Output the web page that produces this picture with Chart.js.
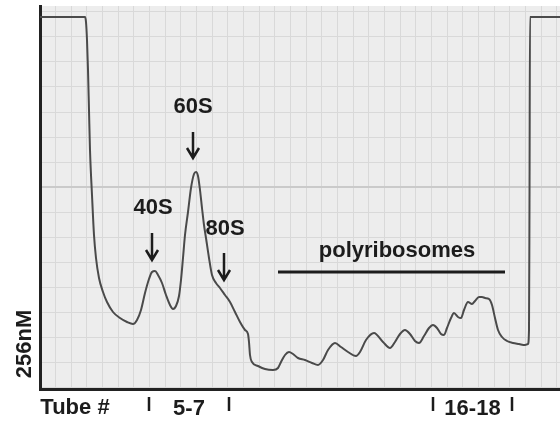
<!DOCTYPE html>
<html>
<head>
<meta charset="utf-8">
<script src="https://cdn.jsdelivr.net/npm/chart.js@4.4.1/dist/chart.umd.min.js"></script>
<style>
html,body{margin:0;padding:0;background:#fff;}
#wrap{width:560px;height:427px;position:relative;}
</style>
</head>
<body>
<div id="wrap"><canvas id="c" width="560" height="427"></canvas></div>
<script>
// Gradient position along the tube (arbitrary units, left = top of gradient)
const position = [0,45,46,47,48,49,50,52,54,56,59,63,67,73,80,87,93,97,101,105,109,112,115,118,122,126,130,133,136,139,141,143,145,148,151,154,156,158,160,162,164,166,169,172,176,180,185,190,195,200,205,208,209,210,212,218,225,233,238,241,245,249,253,258,265,272,278,283,288,295,301,308,316,320,326,334,343,350,355,360,365,370,375,379,384,389,393,397,401,404,407,411,414,418,421,424,428,432,435,439,442,445,449,452,455,458,462,467,473,479,485,488,489,489.5,490,520];
// Absorbance reading (arbitrary units, full scale 383)
const absorbance = [372,372,367,349,319,279,239,194,154,131,111,97,87,77,71,67,65,69,79,96,110,117,118,114,106,94,84,80,83,93,109,131,154,177,201,215,217,213,199,181,164,151,131,114,106,101,94,87,77,67,59,55,47,34,27,23,20,19,21,27,34,37,35,31,29,26,24,29,39,46,42,37,33,37,49,56,47,41,47,55,59,55,48,46,53,61,64,61,55,54,61,71,76,72,71,79,87,85,88,92,92,91,90,84,71,59,52,48,46,45,44,45,59,189,372,372];

const xMin = 0, xMax = 520, yMin = 0, yMax = 383;
const hGrid = [2,27,52,77,102,127,152,177,202,227,252,277,302,327,352,377];
const vGrid = [15,31,46,62,78,93,109,125,140,156,172,187,203,219,234,250,266,281,297,313,328,344,360,375,391,407,422,438,454,469,485,501,516];

const peakLabels = ['40S','60S','80S'];
const peakLabelPos = [[113,181],[153,282],[185,160]];
const peakArrowPos = [[112,156,129],[153,257,231],[184,136,109]];
const bandLabel = 'polyribosomes';
const bandLabelPos = [357,138];
const bandLinePos = [238,465,117];

const axisTitleX = 'Tube #';
const tubeLabels = ['5-7','16-18'];
const tubeTicks = [109,189,393,472];
const axisTitleY = '256nM';

const FONT = 'bold 22px "Liberation Sans", Arial, sans-serif';

const bgPlugin = {
  id:'paper',
  beforeDraw(chart){
    const {ctx, chartArea:a} = chart;
    ctx.save();
    ctx.fillStyle = '#ededed';
    ctx.fillRect(a.left, a.top, a.right-a.left, a.bottom-a.top);
    ctx.restore();
  }
};

const annPlugin = {
  id:'ann',
  afterDraw(chart){
    const {ctx} = chart;
    const xs = chart.scales.x, ys = chart.scales.y;
    const px = v => xs.getPixelForValue(v), py = v => ys.getPixelForValue(v);
    ctx.save();
    ctx.fillStyle = '#1c1c1c';
    ctx.strokeStyle = '#1c1c1c';
    ctx.font = FONT;
    ctx.textAlign = 'center';
    ctx.textBaseline = 'middle';
    peakLabels.forEach((t,i)=>{
      ctx.fillText(t, px(peakLabelPos[i][0]), py(peakLabelPos[i][1]));
      const [ax, y0, y1] = peakArrowPos[i];
      const x = px(ax), top = py(y0), tip = py(y1);
      ctx.lineWidth = 2.5;
      ctx.beginPath();
      ctx.moveTo(x, top); ctx.lineTo(x, tip);
      ctx.moveTo(x-6, tip-10); ctx.lineTo(x, tip); ctx.lineTo(x+6, tip-10);
      ctx.stroke();
    });
    ctx.fillText(bandLabel, px(bandLabelPos[0]), py(bandLabelPos[1]));
    ctx.lineWidth = 3;
    ctx.beginPath();
    ctx.moveTo(px(bandLinePos[0]), py(bandLinePos[2]));
    ctx.lineTo(px(bandLinePos[1]), py(bandLinePos[2]));
    ctx.stroke();

    // x-axis labels
    const base = chart.chartArea.bottom;
    ctx.fillText(axisTitleX, px(35), base+19);
    ctx.fillText(tubeLabels[0], (px(tubeTicks[0])+px(tubeTicks[1]))/2, base+20);
    ctx.fillText(tubeLabels[1], (px(tubeTicks[2])+px(tubeTicks[3]))/2, base+20);
    ctx.lineWidth = 2.5;
    tubeTicks.forEach(t=>{
      ctx.beginPath();
      ctx.moveTo(px(t), base+8); ctx.lineTo(px(t), base+22);
      ctx.stroke();
    });
    // y-axis title
    ctx.save();
    ctx.translate(25, py(45));
    ctx.rotate(-Math.PI/2);
    ctx.fillText(axisTitleY, 0, 0);
    ctx.restore();
    ctx.restore();
  }
};

new Chart(document.getElementById('c'), {
  type:'line',
  data:{
    datasets:[{
      data: position.map((x,i)=>({x, y: absorbance[i]})),
      borderColor:'#4a4a4a',
      borderWidth:2,
      pointRadius:0,
      cubicInterpolationMode:'monotone',
      fill:false
    }]
  },
  options:{
    responsive:false,
    animation:false,
    devicePixelRatio:1,
    layout:{padding:{top:6,left:0,right:0,bottom:0}},
    plugins:{legend:{display:false}, tooltip:{enabled:false}},
    scales:{
      x:{
        type:'linear', min:xMin, max:xMax,
        afterBuildTicks(s){ s.ticks = vGrid.map(v=>({value:v})); },
        afterFit(s){ s.height = 38; },
        ticks:{display:false},
        grid:{color:'#d9d9d9', lineWidth:1, drawTicks:false},
        border:{display:true, color:'#222', width:3}
      },
      y:{
        type:'linear', min:yMin, max:yMax,
        afterBuildTicks(s){ s.ticks = hGrid.map(v=>({value:v})); },
        afterFit(s){ s.width = 40; },
        ticks:{display:false},
        grid:{color:(c)=> c.tick && c.tick.value===202 ? '#cacaca' : '#d9d9d9', lineWidth:(c)=> c.tick && c.tick.value===202 ? 2 : 1, drawTicks:false},
        border:{display:true, color:'#222', width:3}
      }
    }
  },
  plugins:[bgPlugin, annPlugin]
});
</script>
</body>
</html>
